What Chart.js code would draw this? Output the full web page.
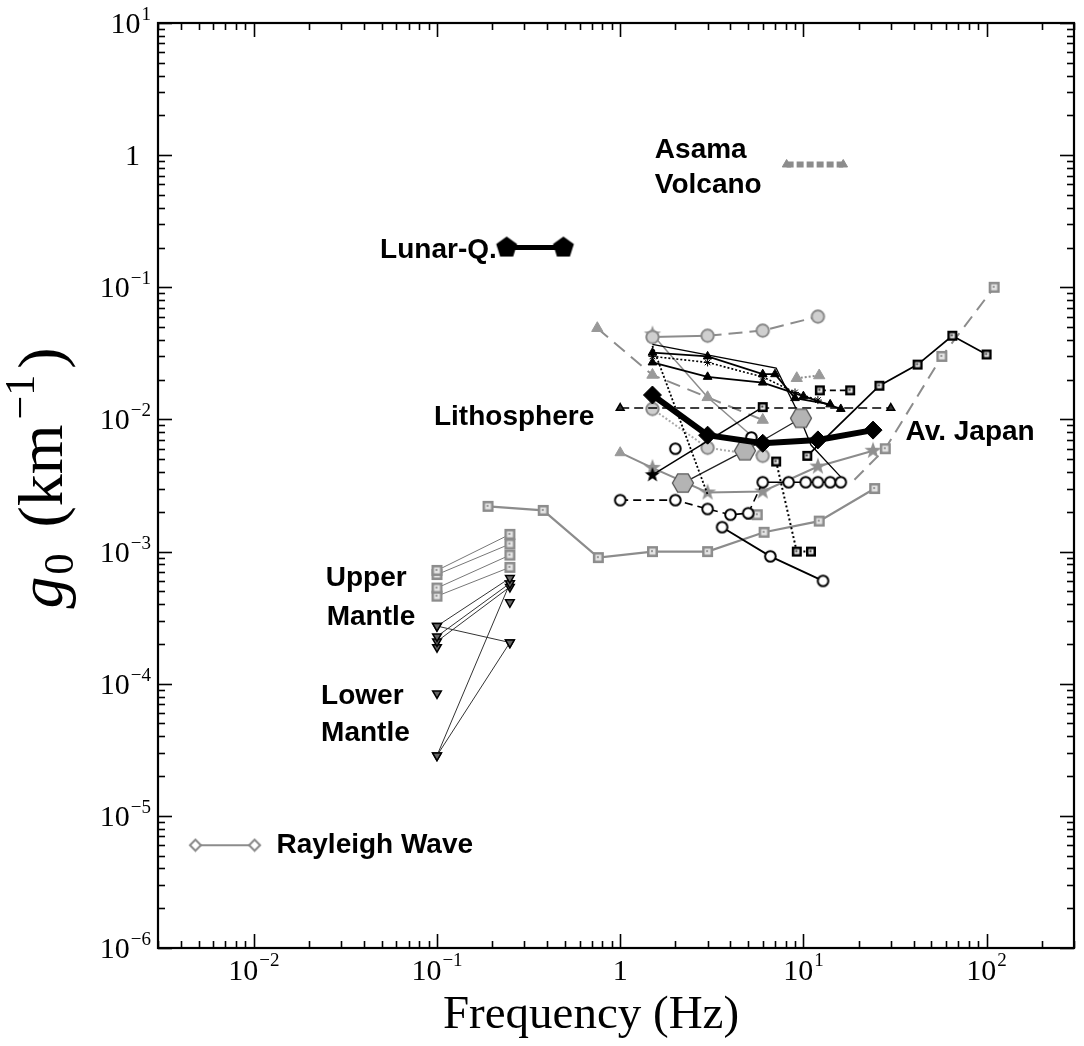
<!DOCTYPE html>
<html><head><meta charset="utf-8">
<script src="https://cdn.jsdelivr.net/npm/chart.js@4.4.0/dist/chart.umd.min.js"></script>
<style>html,body{margin:0;padding:0;background:#fff;overflow:hidden;} canvas{display:block;}</style>
</head><body><canvas id="c" width="1084" height="1046" style="width:1084px;height:1046px"></canvas>
<script>
// ---------------- DATA ----------------
const xMin = 0.003, xMax = 300, yMin = 1e-6, yMax = 10;
const xTickExps = [-2, -1, 0, 1, 2];
const yTickExps = [-6, -5, -4, -3, -2, -1, 0, 1];

const lunarX = [0.24, 0.49], lunarY = [0.2, 0.2];
const asamaX = [8.1, 16.5], asamaY = [0.85, 0.85];
const rayLegX = [0.0048, 0.0101], rayLegY = [6e-6, 6e-6];
const rayX = [0.19, 0.38, 0.76, 1.5, 3, 6.1, 12.2, 24.5];
const rayY = [2.2e-3, 2.05e-3, 9.0e-4, 1.0e-3, 1.0e-3, 1.4e-3, 1.7e-3, 3.0e-3];

const mantleX = [0.1, 0.25];
const um1Y = [7.2e-4, 1.35e-3], um2Y = [6.7e-4, 1.14e-3], um3Y = [5.3e-4, 9.4e-4], um4Y = [4.6e-4, 7.6e-4];
const mt1Y = [2.73e-4, 6.3e-4], mt2Y = [2.73e-4, 2.05e-4], mt3Y = [2.28e-4, 5.75e-4];
const mt4Y = [2.09e-4, 5.4e-4], mt5Y = [2.86e-5, 5.75e-4], mt6Y = [2.86e-5, 2.05e-4];
const mtIsoX = [0.1, 0.1, 0.25], mtIsoY = [1.89e-4, 8.45e-5, 4.13e-4];

const japX = [1.5, 3, 6, 12, 24], japY = [0.0153, 0.0076, 0.0066, 0.0070, 0.0083];
const hexX = [2.2, 4.8, 9.7], hexY = [3.3e-3, 5.8e-3, 0.0102];
const gCircX = [1.5, 3, 6, 12], gCircY = [0.042, 0.043, 0.047, 0.06];
const gTriDashX = [0.75, 1.5, 3, 6], gTriDashY = [0.049, 0.0217, 0.0147, 0.0099];
const gTriDotX = [9.2, 12.2], gTriDotY = [0.0205, 0.0215];
const bTri1X = [1.5, 3, 6, 7, 9, 14], bTri1Y = [0.032, 0.030, 0.022, 0.022, 0.0145, 0.013];
const bTri2X = [1.5, 3, 6, 10, 16], bTri2Y = [0.027, 0.021, 0.019, 0.015, 0.012];
const bDashTriX = [1, 30], bDashTriY = [0.0122, 0.0122];
const bCircChainX = [1, 2, 3, 4, 5, 6, 8.3, 10.3, 12, 14, 16];
const bCircChainY = [2.45e-3, 2.45e-3, 2.1e-3, 1.9e-3, 1.95e-3, 3.35e-3, 3.35e-3, 3.35e-3, 3.35e-3, 3.35e-3, 3.35e-3];
const bCircLowX = [3.6, 6.6, 12.8], bCircLowY = [1.53e-3, 9.2e-4, 6.0e-4];
const bSqRightX = [10.5, 26, 42, 65, 100], bSqRightY = [5.3e-3, 0.018, 0.026, 0.043, 0.031];
const gSqDashX = [19, 28, 57, 110], gSqDashY = [3.5e-3, 6.0e-3, 0.030, 0.10];
const bSqDotX = [7.1, 9.2, 11], bSqDotY = [4.8e-3, 1.0e-3, 1.0e-3];
const bStarLineX = [1.5, 6], bStarLineY = [3.8e-3, 0.0124];
const bSqDashX = [12.3, 18], bSqDashY = [0.0166, 0.0166];
const gStarX = [1, 1.5, 3, 6, 12, 24], gStarY = [5.6e-3, 4.3e-3, 2.8e-3, 2.85e-3, 4.4e-3, 5.8e-3];
const gCircDotX = [1.5, 3, 6], gCircDotY = [0.012, 6.1e-3, 5.3e-3];
const bCircPairX = [2, 5.2], bCircPairY = [6.0e-3, 7.3e-3];
const bDotSteepX = [1.5, 3], bDotSteepY = [0.036, 2.7e-3];
const bThinX = [1.5, 7.1, 9.2, 11, 16.5], bThinY = [0.037, 0.0245, 0.0118, 6.4e-3, 3.5e-3];
const bDot2X = [1.5, 3, 6, 9, 12], bDot2Y = [0.030, 0.027, 0.021, 0.016, 0.014];
const gThinX = [1.5, 3, 5.4], gThinY = [0.044, 0.0147, 7.2e-3];
const gTriLowX = [5.2, 5.6], gTriLowY = [1.85e-3, 1.9e-3];

const annText = ['Lunar-Q.', 'Asama', 'Volcano', 'Lithosphere', 'Av. Japan', 'Upper', 'Mantle', 'Lower', 'Mantle', 'Rayleigh Wave'];
const annX = [0.212, 1.546, 1.546, 0.0963, 36.1, 0.0247, 0.025, 0.0233, 0.0233, 0.0133];
const annY = [0.192, 1.097, 0.596, 0.0104, 0.00802, 6.27e-4, 3.2e-4, 8.0e-5, 4.2e-5, 5.96e-6];
const annAlign = ['right', 'left', 'left', 'left', 'left', 'left', 'left', 'left', 'left', 'left'];

// ---------------- MARKERS ----------------
function mk(size, fn) { const c = document.createElement('canvas'); c.width = size; c.height = size; const g = c.getContext('2d'); fn(g, size / 2); return c; }
function poly(g, c, n, r, rot) { g.beginPath(); for (let i = 0; i < n; i++) { const a = rot + i * 2 * Math.PI / n; const px = c + r * Math.cos(a), py = c + r * Math.sin(a); i ? g.lineTo(px, py) : g.moveTo(px, py); } g.closePath(); }
function star(g, c, ro, ri) { g.beginPath(); for (let i = 0; i < 10; i++) { const r = i % 2 ? ri : ro; const a = -Math.PI / 2 + i * Math.PI / 5; const px = c + r * Math.cos(a), py = c + r * Math.sin(a); i ? g.lineTo(px, py) : g.moveTo(px, py); } g.closePath(); }
const M = {
  pent: mk(26, (g, c) => { poly(g, c, 5, 11, -Math.PI / 2); g.fillStyle = '#000'; g.fill(); }),
  hex: mk(26, (g, c) => { poly(g, c, 6, 10.5, 0); g.fillStyle = '#b4b4b4'; g.fill(); g.strokeStyle = '#555'; g.lineWidth = 1.3; g.stroke(); }),
  starB: mk(20, (g, c) => { star(g, c, 8, 3.3); g.fillStyle = '#000'; g.fill(); }),
  starG: mk(22, (g, c) => { star(g, c, 9, 3.6); g.fillStyle = '#909090'; g.fill(); }),
  sqB: mk(12, (g, c) => { g.fillStyle = '#000'; g.fillRect(1, 1, 10, 10); g.fillStyle = '#eee'; g.fillRect(3.5, 3.5, 5, 5); g.fillStyle = '#333'; g.fillRect(4.5, 4.5, 2, 2); }),
  sqG: mk(13, (g, c) => { g.fillStyle = '#8c8c8c'; g.fillRect(1, 1, 11, 11); g.fillStyle = '#e4e4e4'; g.fillRect(3.5, 3.5, 6, 6); g.fillStyle = '#999'; g.fillRect(5, 5, 2, 2); }),
  circB: mk(15, (g, c) => { g.beginPath(); g.arc(c, c, 5.3, 0, 2 * Math.PI); g.fillStyle = '#fff'; g.fill(); g.strokeStyle = '#000'; g.lineWidth = 2; g.stroke(); }),
  circG: mk(17, (g, c) => { g.beginPath(); g.arc(c, c, 6.2, 0, 2 * Math.PI); g.fillStyle = '#cfcfcf'; g.fill(); g.strokeStyle = '#8a8a8a'; g.lineWidth = 2; g.stroke(); }),
  diaG: mk(15, (g, c) => { poly(g, c, 4, 5.5, 0); g.fillStyle = '#fff'; g.fill(); g.strokeStyle = '#8a8a8a'; g.lineWidth = 2; g.stroke(); })
};

// ---------------- DATASETS ----------------
const GREY = '#8c8c8c';
function pts(xs, ys) { return xs.map((v, i) => ({ x: v, y: ys[i] })); }
function ds(xs, ys, o) { return Object.assign({ data: pts(xs, ys), showLine: true, borderColor: '#000', borderWidth: 1.5, pointRadius: 3, pointStyle: 'circle', backgroundColor: '#000', pointBorderWidth: 1 }, o); }

const datasets = [
  ds(japX, japY, { borderWidth: 6, pointStyle: 'rectRot', pointRadius: 9, backgroundColor: '#000', borderColor: '#000' }),
  ds(hexX, hexY, { borderWidth: 1.3, borderColor: '#222', pointStyle: M.hex }),
  ds(lunarX, lunarY, { borderWidth: 5, pointStyle: M.pent }),
  ds(asamaX, asamaY, { borderWidth: 6, borderColor: GREY, borderDash: [7, 3], pointStyle: 'triangle', pointRadius: 5, backgroundColor: GREY, borderCapStyle: 'butt' }),
  ds(rayLegX, rayLegY, { borderWidth: 2, borderColor: GREY, pointStyle: M.diaG }),
  ds(bCircChainX, bCircChainY, { borderWidth: 1.6, pointStyle: M.circB, segment: { borderDash: c => c.p0DataIndex < 5 ? [8, 5] : [] } }),
  ds(bCircLowX, bCircLowY, { borderWidth: 1.8, pointStyle: M.circB }),
  ds(bCircPairX, bCircPairY, { showLine: false, pointStyle: M.circB }),
  ds(bSqRightX, bSqRightY, { borderWidth: 1.8, pointStyle: M.sqB }),
  ds(bSqDotX, bSqDotY, { borderWidth: 2, borderDash: [2, 2.5], pointStyle: M.sqB }),
  ds(bSqDashX, bSqDashY, { borderWidth: 1.6, borderDash: [6, 4], pointStyle: M.sqB }),
  ds(bStarLineX, bStarLineY, { borderWidth: 1.5, pointStyle: [M.starB, M.sqB] }),
  ds(bDashTriX, bDashTriY, { borderWidth: 1.6, borderDash: [9, 5], pointStyle: 'triangle', pointRadius: 4.5, backgroundColor: '#333', pointBorderColor: '#000', pointBorderWidth: 1.5 }),
  ds(bTri1X, bTri1Y, { borderWidth: 1.8, pointStyle: 'triangle', pointRadius: 5 }),
  ds(bTri2X, bTri2Y, { borderWidth: 1.8, pointStyle: 'triangle', pointRadius: 5 }),
  ds(bDot2X, bDot2Y, { borderWidth: 1.6, borderDash: [2, 2], pointStyle: 'star', pointRadius: 4 }),
  ds(bDotSteepX, bDotSteepY, { borderWidth: 1.8, borderDash: [2, 2], pointRadius: 0 }),
  ds(bThinX, bThinY, { borderWidth: 1.3, pointRadius: 0 }),
  ds(gCircX, gCircY, { borderWidth: 2, borderColor: GREY, pointStyle: M.circG, segment: { borderDash: c => c.p0DataIndex === 0 ? [] : [14, 7] } }),
  ds(gCircDotX, gCircDotY, { borderWidth: 2, borderColor: '#aaa', borderDash: [2, 2], pointStyle: M.circG }),
  ds(gTriDashX, gTriDashY, { borderWidth: 2, borderColor: GREY, borderDash: [14, 8], pointStyle: 'triangle', pointRadius: 6.5, backgroundColor: '#999', pointBorderColor: '#999' }),
  ds(gTriDotX, gTriDotY, { borderWidth: 2, borderColor: GREY, borderDash: [2, 2], pointStyle: 'triangle', pointRadius: 6.5, backgroundColor: '#999', pointBorderColor: '#999' }),
  ds(gTriLowX, gTriLowY, { showLine: false, pointStyle: ['triangle', M.sqG], pointRadius: 6, backgroundColor: '#999', pointBorderColor: '#999' }),
  ds(gStarX, gStarY, { borderWidth: 2, borderColor: GREY, pointStyle: ['triangle', M.starG, M.starG, M.starG, M.starG, M.starG], pointRadius: 6, backgroundColor: '#999', pointBorderColor: '#999' }),
  ds(gThinX, gThinY, { borderWidth: 1.5, borderColor: GREY, pointRadius: [6, 0, 0], pointStyle: M.starG }),
  ds(gSqDashX, gSqDashY, { borderWidth: 2, borderColor: GREY, borderDash: [13, 8], pointStyle: M.sqG, pointRadius: [0, 3, 3, 3] }),
  ds(rayX, rayY, { borderWidth: 2.2, borderColor: GREY, pointStyle: M.sqG }),
  ds(mantleX, um1Y, { borderWidth: 1, borderColor: '#777', pointStyle: M.sqG }),
  ds(mantleX, um2Y, { borderWidth: 1, borderColor: '#777', pointStyle: M.sqG }),
  ds(mantleX, um3Y, { borderWidth: 1, borderColor: '#777', pointStyle: M.sqG }),
  ds(mantleX, um4Y, { borderWidth: 1, borderColor: '#777', pointStyle: M.sqG })
];
[mt1Y, mt2Y, mt3Y, mt4Y, mt5Y, mt6Y].forEach(yy => datasets.push(ds(mantleX, yy, { borderWidth: 1, borderColor: '#333', pointStyle: 'triangle', pointRotation: 180, pointRadius: 5, backgroundColor: '#666', pointBorderColor: '#000', pointBorderWidth: 1.5 })));
datasets.push(ds(mtIsoX, mtIsoY, { showLine: false, pointStyle: 'triangle', pointRotation: 180, pointRadius: 5, backgroundColor: '#666', pointBorderColor: '#000', pointBorderWidth: 1.5 }));
datasets.forEach(d => { if (!d.pointBorderColor) d.pointBorderColor = d.borderColor; d.pointBackgroundColor = d.backgroundColor; });

// ---------------- DECORATION PLUGIN ----------------
const SERIF = '"Liberation Serif", "Times New Roman", serif';
function powLabel(ctx, exp, x, y, align, bs, ss, rise) {
  const base = exp === 0 ? '1' : '10';
  const sup = exp === 0 ? '' : (exp < 0 ? '\u2212' + (-exp) : String(exp));
  ctx.font = bs + 'px ' + SERIF; const wb = ctx.measureText(base).width;
  ctx.font = ss + 'px ' + SERIF; const ws = sup ? ctx.measureText(sup).width + 1 : 0;
  const tot = wb + ws;
  let sx = align === 'center' ? x - tot / 2 : x - tot;
  ctx.textAlign = 'left'; ctx.textBaseline = 'alphabetic';
  ctx.font = bs + 'px ' + SERIF; ctx.fillText(base, sx, y);
  if (sup) { ctx.font = ss + 'px ' + SERIF; ctx.fillText(sup, sx + wb + 1, y - rise); }
}
const deco = {
  id: 'deco',
  afterDatasetsDraw(chart) {
    const { ctx, chartArea: a, scales: { x, y } } = chart;
    ctx.save();
    ctx.strokeStyle = '#000'; ctx.fillStyle = '#000'; ctx.lineWidth = 1.6;
    const ln = (x1, y1, x2, y2) => { ctx.beginPath(); ctx.moveTo(x1, y1); ctx.lineTo(x2, y2); ctx.stroke(); };
    for (let e = -3; e <= 2; e++) for (let m = 1; m <= 9; m++) {
      const v = m * Math.pow(10, e); if (v < xMin * 0.999 || v > xMax * 1.001) continue;
      const p = Math.round(x.getPixelForValue(v)) + 0.5; const L = m === 1 ? 14 : 7;
      ln(p, a.bottom, p, a.bottom - L); ln(p, a.top, p, a.top + L);
    }
    for (let e = -6; e <= 1; e++) for (let m = 1; m <= 9; m++) {
      const v = m * Math.pow(10, e); if (v < yMin * 0.999 || v > yMax * 1.001) continue;
      const p = Math.round(y.getPixelForValue(v)) + 0.5; const L = m === 1 ? 14 : 7;
      ln(a.left, p, a.left + L, p); ln(a.right, p, a.right - L, p);
    }
    ctx.lineWidth = 2.2; ctx.strokeRect(a.left, a.top, a.right - a.left, a.bottom - a.top);
    // tick labels
    xTickExps.forEach(e => powLabel(ctx, e, x.getPixelForValue(Math.pow(10, e)), 980, 'center', 30, 19, 14));
    yTickExps.forEach(e => {
      const py = y.getPixelForValue(Math.pow(10, e));
      powLabel(ctx, e, e === 0 ? 140 : 151, py + 10, 'right', 30, 19, 13);
    });
    // annotations
    ctx.font = 'bold 28px "Liberation Sans", Arial, sans-serif'; ctx.textBaseline = 'middle';
    annText.forEach((t, i) => { ctx.textAlign = annAlign[i]; ctx.fillText(t, x.getPixelForValue(annX[i]), y.getPixelForValue(annY[i])); });
    // x title
    ctx.textAlign = 'center'; ctx.textBaseline = 'alphabetic';
    ctx.font = '47px ' + SERIF; ctx.fillText('Frequency (Hz)', 591, 1028);
    // y title (rotated)
    ctx.save(); ctx.translate(62, 478); ctx.rotate(-Math.PI / 2);
    const parts = [['g', 'italic 64px ' + SERIF, 0, 0], ['0', '42px ' + SERIF, 11, 2], [' (km', '64px ' + SERIF, 0, 10], ['\u22121', '42px ' + SERIF, -28, 5], [')', '64px ' + SERIF, 0, 6]];
    let tot = 0; parts.forEach(p => { ctx.font = p[1]; p.w = ctx.measureText(p[0]).width; tot += p.w + p[3]; });
    let cx = -tot / 2; ctx.textAlign = 'left';
    parts.forEach(p => { cx += p[3]; ctx.font = p[1]; ctx.fillText(p[0], cx, p[2]); cx += p.w; });
    ctx.restore();
    ctx.restore();
  }
};

const TARGET = { left: 158, right: 1082, top: 23, bottom: 948 };
const chart = new Chart(document.getElementById('c'), {
  type: 'scatter',
  data: { datasets },
  options: {
    responsive: false, maintainAspectRatio: false, animation: false, devicePixelRatio: 1,
    layout: { padding: { top: 23, right: 2, left: 0, bottom: 0 } },
    plugins: { legend: { display: false }, tooltip: { enabled: false } },
    scales: {
      x: { type: 'logarithmic', min: xMin, max: xMax, grid: { display: false }, border: { display: false }, ticks: { display: false }, afterFit: s => { s.height = 98; } },
      y: { type: 'logarithmic', min: yMin, max: yMax, grid: { display: false }, border: { display: false }, ticks: { display: false }, afterFit: s => { s.width = 158; } }
    }
  },
  plugins: [deco]
});
// correct any extra space the layout reserved, so the plot frame sits where the reference has it
const ca = chart.chartArea, pad = chart.options.layout.padding;
pad.right = 2 + (ca.right - TARGET.right);
pad.left = 0 + (TARGET.left - ca.left);
pad.top = 23 + (TARGET.top - ca.top);
pad.bottom = 0 + (ca.bottom - TARGET.bottom);
chart.update('none');
</script></body></html>
